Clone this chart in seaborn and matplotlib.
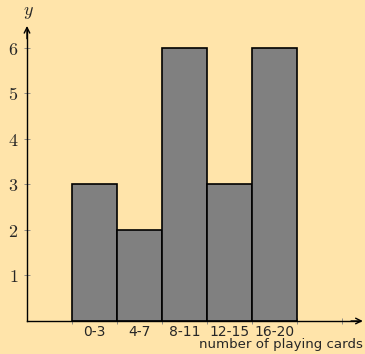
import numpy as np
import pandas as pd
import matplotlib
matplotlib.use("Agg")
import matplotlib.pyplot as plt
import seaborn as sns

# histogram data
categories = ["0-3", "4-7", "8-11", "12-15", "16-20"]
counts = [3, 2, 6, 3, 6]
y_ticks = [1, 2, 3, 4, 5, 6]

bg = "#ffe4aa"
sns.set_style("white")
plt.rcParams["mathtext.fontset"] = "cm"

fig = plt.figure(figsize=(3.65, 3.54), dpi=100)
fig.patch.set_facecolor(bg)
ax = fig.add_axes([0, 0, 1, 1])
ax.set_facecolor(bg)

# bars occupy unit-wide bins starting at x = 1
edges = [i + 1 for i in range(len(categories) + 1)]
centers = [e + 0.5 for e in edges[:-1]]
df = pd.DataFrame({"pos": centers, "count": counts})
sns.histplot(data=df, x="pos", weights="count", bins=edges, color="#808080", alpha=1,
             edgecolor="black", linewidth=1.2, ax=ax)

ax.set_xlim(-0.6, 7.51)
ax.set_ylim(-0.725, 7.05)

# axes through the origin with arrows
for s in ["top", "right"]:
    ax.spines[s].set_visible(False)
ax.spines["left"].set_position(("data", 0))
ax.spines["bottom"].set_position(("data", 0))
ax.spines["left"].set_bounds(0, 6.4)
ax.spines["bottom"].set_bounds(0, 7.4)
for s in ["left", "bottom"]:
    ax.spines[s].set_color("black")
    ax.spines[s].set_linewidth(1.0)
ax.annotate("", xy=(7.46, 0), xytext=(7.2, 0),
            arrowprops=dict(arrowstyle="->", color="black", lw=1.0, shrinkA=0, shrinkB=0))
ax.annotate("", xy=(0, 6.48), xytext=(0, 6.2),
            arrowprops=dict(arrowstyle="->", color="black", lw=1.0, shrinkA=0, shrinkB=0))

# ticks
ax.set_yticks(y_ticks)
ax.set_yticklabels([f"${t}$" for t in y_ticks], fontsize=13)
ax.set_xticks(edges + [7])
ax.set_xticklabels([])
ax.set_xticks(centers, minor=True)
ax.set_xticklabels(categories, minor=True, fontsize=10)
ax.tick_params(axis="both", which="major", direction="inout", length=4.5,
               width=0.6, color="gray", bottom=True, left=True)
ax.tick_params(axis="y", pad=4)
ax.tick_params(axis="x", which="minor", length=0, pad=3, bottom=True)
ax.set_xlabel("")
ax.set_ylabel("")

ax.text(7.47, -0.52, "number of playing cards", ha="right", va="center", fontsize=9.6)
ax.text(0.03, 6.78, "$y$", ha="center", va="center", fontsize=13)

fig.savefig("out.png", dpi=100, facecolor=bg)
